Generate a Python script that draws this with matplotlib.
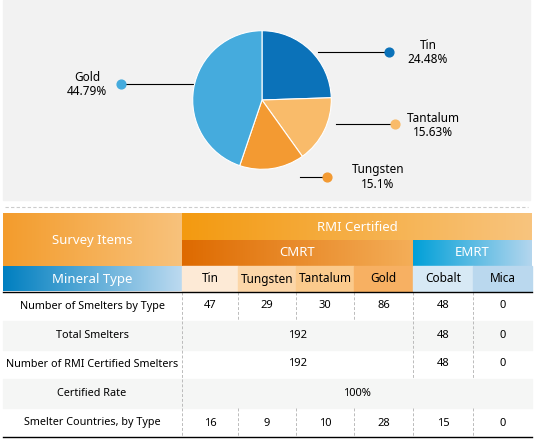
import numpy as np
import matplotlib
matplotlib.use("Agg")
import matplotlib.pyplot as plt
from matplotlib.colors import LinearSegmentedColormap
from matplotlib.patches import Rectangle

plt.rcParams["font.family"] = ["Noto Sans", "DejaVu Sans"]

# pie data
minerals = ["Tin", "Tantalum", "Tungsten", "Gold"]
shares = [24.48, 15.63, 15.1, 44.79]
share_labels = ["24.48%", "15.63%", "15.1%", "44.79%"]
pie_colors = ["#0b72b9", "#f9bb6a", "#f39a32", "#45abdd"]

# table data
col_names = ["Tin", "Tungsten", "Tantalum", "Gold", "Cobalt", "Mica"]
row_names = ["Number of Smelters by Type", "Total Smelters",
             "Number of RMI Certified Smelters", "Certified Rate",
             "Smelter Countries, by Type"]
smelters_by_type = [47, 29, 30, 86, 48, 0]
total_smelters = [192, 48, 0]
certified_smelters = [192, 48, 0]
certified_rate = "100%"
countries_by_type = [16, 9, 10, 28, 15, 0]

W, H = 540, 443
fig = plt.figure(figsize=(W / 100, H / 100), dpi=100)
ax = fig.add_axes([0, 0, 1, 1])
ax.set_xlim(0, W)
ax.set_ylim(H, 0)
ax.axis("off")

# grey panel behind pie
ax.add_patch(Rectangle((3, 0), 527, 200, color="#f2f2f2", zorder=0))
ax.plot([5, 528], [207, 207], ls=(0, (3, 2)), color="#cccccc", lw=0.8)

cx, cy, r = 262, 100, 70
pax = fig.add_axes([(cx - r) / W, (H - cy - r) / H, 2 * r / W, 2 * r / H])
pax.pie(shares, colors=pie_colors, startangle=90, counterclock=False,
        wedgeprops=dict(edgecolor="white", linewidth=0.8))
pax.set_aspect("auto")
pax.set_xlim(-1.01, 1.01)
pax.set_ylim(-1.01, 1.01)

# label callouts: line start, dot, text centre
callouts = [((318, 52), (389, 52), (428, 52)),
            ((336, 124), (395, 124), (433, 125)),
            ((300, 177), (327, 177), (378, 177)),
            ((200, 84), (121, 84), (87, 84))]
for i, ((x0, y0), (xd, yd), (xt, yt)) in enumerate(callouts):
    ax.plot([x0, xd], [y0, yd], color="black", lw=0.8)
    ax.scatter([xd], [yd], s=40, color=pie_colors[i], zorder=3)
    ax.text(xt, yt - 7, minerals[i], ha="center", va="center", fontsize=8.5)
    ax.text(xt, yt + 7, share_labels[i], ha="center", va="center", fontsize=8.5)


def grad(x0, x1, y0, y1, c0, c1):
    cmap = LinearSegmentedColormap.from_list("g", [c0, c1])
    ax.imshow(np.linspace(0, 1, 256)[None, :], cmap=cmap, aspect="auto",
              extent=[x0, x1, y1, y0], zorder=1, interpolation="bilinear")


xs = [3, 182, 238, 296, 354, 413, 473, 532]
grad(3, 182, 213, 266, "#f39c2c", "#f8c27c")
grad(182, 532, 213, 240, "#f39a10", "#f8c47e")
grad(182, 413, 240, 266, "#de6a00", "#f4ae58")
grad(413, 532, 240, 266, "#00a0d8", "#b4d6ee")
grad(3, 182, 266, 291, "#007fc0", "#bcdaf0")
ax.set_xlim(0, W)
ax.set_ylim(H, 0)
hdr_colors = ["#fdead6", "#fcd6a8", "#fbca8c", "#f7b062", "#d7e9f5", "#bad8ee"]
for i, c in enumerate(hdr_colors):
    ax.add_patch(Rectangle((xs[i + 1], 266), xs[i + 2] - xs[i + 1], 25, color=c, zorder=1))
    ax.text((xs[i + 1] + xs[i + 2]) / 2, 279, col_names[i], ha="center", va="center", fontsize=8.5, zorder=2)

wt = dict(color="white", fontsize=9.5, ha="center", va="center", zorder=2)
ax.text(92, 240, "Survey Items", **wt)
ax.text(357, 227, "RMI Certified", **wt)
ax.text(297, 253, "CMRT", **wt)
ax.text(472, 253, "EMRT", **wt)
ax.text(92, 279, "Mineral Type", **wt)

row_top = [292, 321, 350, 379, 408]
rh = 29
for i, y in enumerate(row_top):
    if i % 2 == 1:
        ax.add_patch(Rectangle((3, y), 529, rh, color="#f5f6f5", zorder=0.5))
    ax.text(92, y + rh / 2, row_names[i], ha="center", va="center", fontsize=7.8)

ax.plot([3, 532], [291.5, 291.5], color="black", lw=1)
ax.plot([3, 532], [437, 437], color="black", lw=1)

dash = dict(color="#bbbbbb", lw=0.7, ls=(0, (3, 2)), zorder=0.8)
for x in xs[1:-1]:
    ax.plot([x, x], [292, 321], **dash)
    ax.plot([x, x], [408, 437], **dash)
for x in [182, 413, 473]:
    ax.plot([x, x], [321, 379], **dash)
ax.plot([182, 182], [379, 408], **dash)

centres = [(xs[i + 1] + xs[i + 2]) / 2 for i in range(6)]
vt = dict(ha="center", va="center", fontsize=8)
for i in range(6):
    ax.text(centres[i], 306, str(smelters_by_type[i]), **vt)
    ax.text(centres[i], 423, str(countries_by_type[i]), **vt)
for y, vals in [(335, total_smelters), (364, certified_smelters)]:
    ax.text((182 + 413) / 2, y, str(vals[0]), **vt)
    ax.text(centres[4], y, str(vals[1]), **vt)
    ax.text(centres[5], y, str(vals[2]), **vt)
ax.text((182 + 532) / 2, 393, certified_rate, **vt)

fig.savefig("out.png", dpi=100)
